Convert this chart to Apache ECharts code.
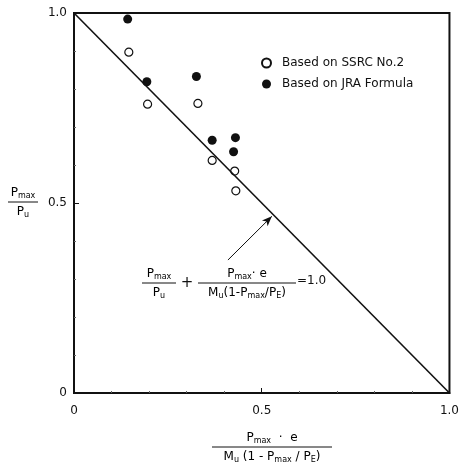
<!DOCTYPE html>
<html><head><meta charset="utf-8">
<script src="https://cdn.jsdelivr.net/npm/echarts@6/dist/echarts.min.js"></script>
<style>html,body{margin:0;padding:0;background:#fff}#c{width:462px;height:470px}</style>
</head><body><div id="c"></div>
<script>
const ssrcX = [0.146, 0.196, 0.330, 0.368, 0.428, 0.431];
const ssrcY = [0.897, 0.760, 0.762, 0.612, 0.584, 0.532];
const jraX = [0.143, 0.194, 0.326, 0.368, 0.430, 0.425];
const jraY = [0.984, 0.819, 0.833, 0.665, 0.672, 0.635];
const lineX = [0, 1];
const lineY = [1, 0];
const tickLabels = {0: '0', 0.5: '0.5', 1: '1.0'};
const seriesNames = ['Based on SSRC No.2', 'Based on JRA Formula'];

const FF = 'DejaVu Sans';
const rich = {
  n: {fontSize: 12, fontFamily: FF, color: '#111'},
  s: {fontSize: 8, fontFamily: FF, color: '#111', padding: [7, 0, 0, 0]}
};
function fraction(cx, cy, num, den, w) {
  return {
    type: 'group', x: cx, y: cy, children: [
      {type: 'text', x: 0, y: -2, style: {text: num, rich: rich, align: 'center', verticalAlign: 'bottom'}},
      {type: 'line', shape: {x1: -w / 2, y1: 0, x2: w / 2, y2: 0}, style: {stroke: '#111', lineWidth: 1}},
      {type: 'text', x: 0, y: 2, style: {text: den, rich: rich, align: 'center', verticalAlign: 'top'}}
    ]
  };
}

const chart = echarts.init(document.getElementById('c'));
const axisCommon = {
  type: 'value', min: 0, max: 1, interval: 0.5,
  axisLine: {show: true, lineStyle: {color: '#111', width: 2}},
  axisTick: {show: true, inside: true, length: 5, lineStyle: {color: '#111', width: 1}},
  minorTick: {show: true, splitNumber: 5, length: 2, lineStyle: {color: '#666', width: 1}},
  splitLine: {show: false},
  axisLabel: {color: '#111', fontSize: 12, fontFamily: FF, formatter: v => tickLabels[v] !== undefined ? tickLabels[v] : ''}
};
chart.setOption({
  animation: false,
  backgroundColor: '#fff',
  grid: {left: 74, right: 8, top: 13, bottom: 77, show: true, borderColor: '#111', borderWidth: 2},
  xAxis: Object.assign({}, axisCommon, {axisLabel: Object.assign({}, axisCommon.axisLabel, {margin: 12})}),
  yAxis: Object.assign({}, axisCommon, {axisLabel: Object.assign({}, axisCommon.axisLabel, {margin: 7})}),
  legend: {
    data: seriesNames, orient: 'vertical', left: 261, top: 57, itemGap: 9, padding: 0,
    icon: 'circle', itemWidth: 9, itemHeight: 9,
    textStyle: {fontSize: 12, fontFamily: FF, color: '#111', padding: [0, 0, 0, 6]}
  },
  series: [
    {
      type: 'line', data: lineX.map((x, i) => [x, lineY[i]]), symbol: 'none',
      lineStyle: {color: '#111', width: 1.6}, silent: true,
      markLine: {
        silent: true, symbol: ['none', 'arrow'], symbolSize: [6, 10],
        lineStyle: {color: '#111', width: 1, type: 'solid'}, label: {show: false},
        data: [[{coord: [0.41, 0.35]}, {coord: [0.527, 0.465]}]]
      }
    },
    {
      name: seriesNames[0], type: 'scatter', data: ssrcX.map((x, i) => [x, ssrcY[i]]),
      symbol: 'circle', symbolSize: 8,
      itemStyle: {color: '#fff', borderColor: '#111', borderWidth: 1.2, opacity: 1}
    },
    {
      name: seriesNames[1], type: 'scatter', data: jraX.map((x, i) => [x, jraY[i]]),
      symbol: 'circle', symbolSize: 9,
      itemStyle: {color: '#111', borderColor: '#111', borderWidth: 0, opacity: 1}
    }
  ],
  graphic: [
    fraction(23, 202, '{n|P}{s|max}', '{n|P}{s|u}', 30),
    fraction(272, 447, '{n|P}{s|max}{n|  ·  e}', '{n|M}{s|u}{n| (1 - P}{s|max}{n| / P}{s|E}{n|)}', 120),
    fraction(159, 283, '{n|P}{s|max}', '{n|P}{s|u}', 34),
    {type: 'text', x: 187, y: 283, style: {text: '+', fontSize: 15, fontFamily: FF, fill: '#111', align: 'center', verticalAlign: 'middle'}},
    fraction(247, 283, '{n|P}{s|max}{n|· e}', '{n|M}{s|u}{n|(1-P}{s|max}{n|/P}{s|E}{n|)}', 98),
    {type: 'text', x: 297, y: 281, style: {text: '=1.0', fontSize: 12, fontFamily: FF, fill: '#111', align: 'left', verticalAlign: 'middle'}}
  ]
});
</script></body></html>
